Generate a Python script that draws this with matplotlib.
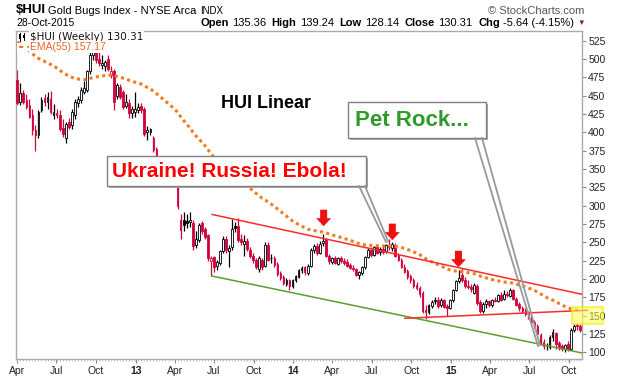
import numpy as np
import pandas as pd
import matplotlib
matplotlib.use('Agg')
import matplotlib.pyplot as plt
import matplotlib.dates as mdates
from matplotlib.patches import Rectangle, Polygon
from matplotlib.lines import Line2D
from matplotlib.transforms import ScaledTranslation

plt.rcParams['font.family'] = ['Liberation Sans', 'DejaVu Sans']

# weekly bars, first week starting 2012-04-02
first_week = '2012-04-02'

opens = [472, 441, 453, 444, 437, 424, 403, 396, 430, 447,
         441, 446, 424, 427, 423, 406, 392, 414, 410, 424,
         440, 444, 455, 458, 483, 506, 508, 500, 492, 491,
         500, 478, 483, 449, 462, 455, 436, 440, 426, 428,
         431, 436, 432, 401, 400, 392, 377, 366, 356, 350,
         346, 352, 340, 326, 281, 280, 279, 278, 276, 246,
         253, 276, 268, 260, 224, 230, 218, 222, 238, 255,
         238, 243, 272, 272, 254, 248, 252, 240, 232, 226,
         214, 226, 218, 246, 228, 229, 220, 208, 203, 193,
         198, 190, 198, 203, 212, 216, 208, 218, 240, 245,
         236, 249, 254, 232, 223, 228, 221, 228, 225, 223,
         219, 215, 213, 205, 208, 216, 230, 240, 233, 243,
         237, 241, 238, 245, 242, 247, 233, 226, 217, 211,
         204, 198, 192, 188, 181, 158, 155, 163, 170, 172,
         164, 171, 163, 161, 171, 185, 197, 205, 199, 191,
         189, 181, 191, 168, 156, 166, 170, 164, 172, 170,
         178, 173, 180, 177, 185, 173, 166, 160, 157, 154,
         149, 141, 136, 124, 114, 108, 107, 121, 126, 113,
         108, 104, 111, 105, 130, 136, 135.36]

highs = [485, 467, 458, 452, 446, 432, 410, 431, 448, 452,
         455, 457, 438, 432, 430, 418, 414, 420, 432, 446,
         450, 462, 470, 485, 512, 514, 512, 510, 505, 498,
         506, 490, 486, 467, 466, 458, 452, 445, 436, 455,
         440, 440, 434, 408, 406, 395, 380, 368, 362, 358,
         360, 356, 344, 330, 289, 291, 288, 292, 280, 266,
         277, 279, 271, 262, 232, 232, 226, 240, 258, 258,
         246, 282, 278, 283, 262, 260, 256, 243, 236, 229,
         231, 229, 250, 250, 234, 232, 223, 211, 206, 201,
         200, 200, 206, 214, 218, 218, 220, 242, 248, 249,
         252, 262, 256, 234, 230, 231, 230, 232, 228, 227,
         222, 219, 215, 211, 218, 232, 242, 243, 245, 246,
         244, 245, 248, 254, 250, 249, 236, 228, 220, 213,
         207, 202, 196, 190, 184, 164, 166, 172, 176, 175,
         174, 173, 166, 173, 187, 199, 212, 215, 203, 198,
         193, 194, 193, 172, 168, 173, 172, 173, 176, 180,
         182, 185, 183, 188, 187, 176, 169, 163, 160, 157,
         152, 144, 138, 126, 118, 113, 124, 132, 128, 116,
         111, 112, 115, 133, 138, 140, 139.24]

lows = [437, 437, 438, 432, 419, 396, 374, 392, 428, 436,
        432, 425, 418, 419, 402, 394, 385, 405, 405, 418,
        434, 440, 452, 455, 480, 498, 494, 490, 486, 484,
        484, 474, 431, 446, 445, 432, 433, 420, 420, 421,
        426, 426, 395, 390, 396, 373, 364, 352, 345, 340,
        342, 336, 327, 296, 255, 265, 269, 271, 240, 242,
        250, 262, 254, 225, 204, 210, 212, 219, 236, 236,
        216, 240, 264, 250, 246, 232, 238, 229, 222, 214,
        210, 212, 216, 224, 222, 216, 204, 199, 192, 190,
        185, 188, 196, 201, 208, 206, 205, 216, 236, 233,
        234, 245, 230, 221, 221, 220, 219, 222, 219, 216,
        213, 211, 204, 200, 206, 214, 228, 230, 231, 234,
        233, 234, 236, 240, 238, 230, 224, 215, 208, 200,
        195, 188, 185, 176, 154, 146, 152, 160, 166, 161,
        162, 160, 150, 159, 169, 183, 195, 196, 188, 186,
        182, 179, 164, 154, 153, 160, 162, 162, 168, 168,
        170, 171, 175, 175, 171, 163, 157, 153, 150, 146,
        139, 133, 123, 110, 104, 103, 105, 116, 105, 103,
        102, 101, 102, 103, 128, 131, 128.14]

closes = [440, 454, 442, 435, 421, 403, 396, 428, 444, 441,
          448, 428, 428, 424, 405, 398, 412, 407, 428, 442,
          445, 458, 460, 483, 505, 509, 498, 494, 495, 496,
          486, 484, 442, 464, 448, 435, 442, 426, 432, 432,
          434, 430, 398, 403, 404, 376, 367, 355, 350, 346,
          352, 340, 330, 300, 267, 273, 276, 281, 245, 255,
          274, 266, 257, 229, 228, 216, 223, 238, 254, 240,
          242, 268, 270, 253, 250, 252, 241, 231, 226, 217,
          228, 216, 246, 226, 229, 219, 207, 202, 195, 199,
          190, 198, 204, 212, 215, 209, 218, 240, 245, 236,
          248, 252, 232, 224, 228, 222, 228, 224, 222, 218,
          215, 213, 206, 209, 216, 230, 240, 233, 243, 236,
          241, 237, 246, 243, 248, 232, 226, 217, 210, 203,
          198, 191, 188, 179, 157, 155, 164, 169, 172, 163,
          171, 162, 160, 171, 185, 197, 201, 198, 190, 189,
          186, 192, 167, 157, 166, 170, 164, 171, 170, 178,
          172, 180, 178, 185, 173, 165, 160, 157, 152, 148,
          141, 136, 125, 113, 108, 109, 121, 128, 112, 107,
          105, 110, 104, 131, 136, 135.95, 130.31]

ema_period = 55
ema_start = 526          # EMA level at the left edge of the chart

# hand drawn trendlines (date, level)
upper_dates = ['2013-06-27', '2015-11-01']
upper_vals = [288, 179]
green_dates = ['2013-06-27', '2015-11-01']
green_vals = [204, 99]
base_dates = ['2014-09-16', '2015-11-12']
base_vals = [146.4, 157.3]

# red arrows (date, level of tip)
arrow_dates = ['2014-03-12', '2014-08-18', '2015-01-18']
arrow_tips = [272, 253, 216]

y_ticks = list(range(100, 526, 25))

W, H = 620, 376
def fx(px):
    return px / W
def fy(py):
    return 1 - py / H

red = '#d2043c'
orange = '#f47a20'

fig = plt.figure(figsize=(6.2, 3.76), dpi=100)
ax = fig.add_axes([fx(16), fy(359), fx(582) - fx(16), fy(31) - fy(359)])

dates = pd.date_range(first_week, periods=len(closes), freq='7D')
x = mdates.date2num(dates)
o = np.array(opens, float)
h = np.array(highs, float)
l = np.array(lows, float)
c = np.array(closes, float)
prev = np.r_[o[0], c[:-1]]

edge = [red if cc < pp else 'black' for cc, pp in zip(c, prev)]
face = [e if cc < oo else 'white' for e, cc, oo in zip(edge, c, o)]

ax.vlines(x, l, h, colors=edge, lw=0.9, zorder=2)
body = np.maximum(np.abs(c - o), 0.9)
ax.bar(x, body, bottom=np.minimum(o, c), width=4.0, color=face,
       edgecolor=edge, linewidth=0.6, zorder=3)

# EMA(55)
ema = []
level = ema_start
k = 2.0 / (ema_period + 1)
for v in c:
    level += k * (v - level)
    ema.append(level)
ax.plot(x, ema, color=orange, lw=2.2, dashes=(1, 1.1), zorder=4)

# trendlines
ax.plot(mdates.date2num(pd.to_datetime(upper_dates)), upper_vals, color='#ff2a2a', lw=1.1, zorder=4)
ax.plot(mdates.date2num(pd.to_datetime(green_dates)), green_vals, color='#5aa02c', lw=1.1, zorder=4)
ax.plot(mdates.date2num(pd.to_datetime(base_dates)), base_vals, color='#ff2a2a', lw=1.1,
        zorder=4, clip_on=False)

# arrows
for d, tip in zip(arrow_dates, arrow_tips):
    t = fig.dpi_scale_trans + ScaledTranslation(mdates.datestr2num(d), tip, ax.transData)
    arrow = Polygon([(0, 0), (-0.075, 0.08), (-0.035, 0.08), (-0.035, 0.165),
                     (0.035, 0.165), (0.035, 0.08), (0.075, 0.08)],
                    closed=True, transform=t, fc='#ee1111', ec='none', zorder=7)
    ax.add_patch(arrow)

ax.set_xlim(mdates.datestr2num('2012-03-30'), mdates.datestr2num('2015-10-31'))
ax.set_ylim(90.9, 538.2)

for s in ax.spines.values():
    s.set_color('#aaaaaa')
    s.set_linewidth(1)

ax.yaxis.tick_right()
ax.set_yticks(y_ticks)
ax.set_yticklabels([str(v) for v in y_ticks])
ax.tick_params(axis='y', length=3, width=0.8, color='#888888', labelsize=7.5,
               labelcolor='#222222', pad=1.5)

ax.xaxis.set_major_locator(mdates.MonthLocator(bymonth=[1, 4, 7, 10]))
ax.xaxis.set_minor_locator(mdates.WeekdayLocator(byweekday=0))
def xfmt(v, pos):
    d = mdates.num2date(v)
    if d.month == 1:
        return d.strftime('%y')
    return d.strftime('%b')
ax.xaxis.set_major_formatter(plt.FuncFormatter(xfmt))
ax.tick_params(axis='x', which='major', length=3, width=0.8, color='#888888',
               labelsize=7.5, labelcolor='#222222', pad=2)
ax.tick_params(axis='x', which='minor', length=1.5, width=0.6, color='#bbbbbb')
fig.canvas.draw()
for lab in ax.get_xticklabels():
    if lab.get_text().isdigit():
        lab.set_fontweight('bold')

# header
fig.text(fx(16), fy(10), '$HUI', fontsize=9.5, fontweight='bold', va='center')
fig.text(fx(48), fy(10.5), 'Gold Bugs Index - NYSE Arca', fontsize=8, va='center')
fig.text(fx(200), fy(10.5), 'INDX', fontsize=7, va='center')
fig.text(fx(584), fy(11), '\u00a9 StockCharts.com', fontsize=8, va='center', ha='right', color='#555555')
fig.text(fx(16), fy(23.5), '28-Oct-2015', fontsize=7.5, va='center')

renderer = fig.canvas.get_renderer()
pieces = [('Open', 'bold', 3), ('135.36', 'normal', 6), ('High', 'bold', 3),
          ('139.24', 'normal', 6), ('Low', 'bold', 3), ('128.14', 'normal', 6),
          ('Close', 'bold', 3), ('130.31', 'normal', 6), ('Chg', 'bold', 3),
          ('-5.64 (-4.15%)', 'normal', 0)]
widths = []
for s, wgt, gap in pieces:
    tt = fig.text(0, 0, s, fontsize=8, fontweight=wgt)
    widths.append(tt.get_window_extent(renderer=renderer).width)
    tt.remove()
total = sum(widths) + sum(p[2] for p in pieces)
xpos = 574 - total
for (s, wgt, gap), wd in zip(pieces, widths):
    fig.text(fx(xpos), fy(23.5), s, fontsize=8, fontweight=wgt, va='center')
    xpos += wd + gap
fig.text(fx(577), fy(23.5), '\u25bc', fontsize=5.5, va='center', color='#8b1a3a')

# legend inside the plot
bg = dict(facecolor='white', edgecolor='none', pad=0.6)
for xi, y0, y1, yb0, yb1 in [(20, 32.5, 40.5, 34, 39), (23.5, 33, 39.5, 35, 38)]:
    fig.add_artist(Line2D([fx(xi), fx(xi)], [fy(y0), fy(y1)], color='black', lw=0.7))
    fig.add_artist(Rectangle((fx(xi - 1), fy(yb1)), fx(2), fy(yb0) - fy(yb1),
                             fc='black', ec='none', transform=fig.transFigure))
fig.text(fx(30), fy(36.5), '$HUI (Weekly) 130.31', fontsize=7.5, va='center',
         family='DejaVu Sans', color='#111111', bbox=bg)
fig.add_artist(Rectangle((fx(17), fy(51)), fx(13), fy(43) - fy(51), fc='white', ec='none',
                         transform=fig.transFigure))
fig.add_artist(Line2D([fx(19), fx(29)], [fy(47), fy(47)], color=orange, lw=1.5,
                      dashes=(2, 2)))
fig.text(fx(30), fy(47), 'EMA(55) 157.17', fontsize=7.5, va='center', color='#f26522', bbox=bg)

# annotations
fig.text(fx(266), fy(104), 'HUI Linear', fontsize=13, fontweight='bold', ha='center', va='center')

def callout(x0, y0, x1, y1, tail, text, tcolor, tx, size):
    for (ax0, ay0, ax1, ay1) in tail:
        fig.add_artist(Line2D([fx(ax0), fx(ax1)], [fy(ay0), fy(ay1)], color='#999999', lw=1.3))
    fig.add_artist(Rectangle((fx(x0 + 2), fy(y1 + 2)), fx(x1 - x0), fy(y0) - fy(y1),
                             fc='#aaaaaa', ec='none', transform=fig.transFigure))
    fig.add_artist(Rectangle((fx(x0), fy(y1)), fx(x1 - x0), fy(y0) - fy(y1),
                             fc='white', ec='#808080', lw=1, transform=fig.transFigure))
    fig.text(fx(tx), fy((y0 + y1) / 2 + 0.5), text, fontsize=size, fontweight='bold',
             color=tcolor, va='center')

callout(107, 156, 366, 186, [(359, 186, 386, 242), (365, 186, 388, 241)],
        'Ukraine! Russia! Ebola!', '#ff0000', 112, 15)
callout(348, 102, 486, 138, [(475, 138, 538, 346), (482, 138, 540, 345)],
        'Pet Rock...', '#2f9a2a', 355, 16)

# highlight of last EMA level
fig.add_artist(Rectangle((fx(572), fy(324)), fx(31), fy(307) - fy(324),
                         fc='#ffff55', alpha=0.55, ec='#eeee00', lw=1.5,
                         transform=fig.transFigure, zorder=10))

fig.savefig('out.png', dpi=100)
